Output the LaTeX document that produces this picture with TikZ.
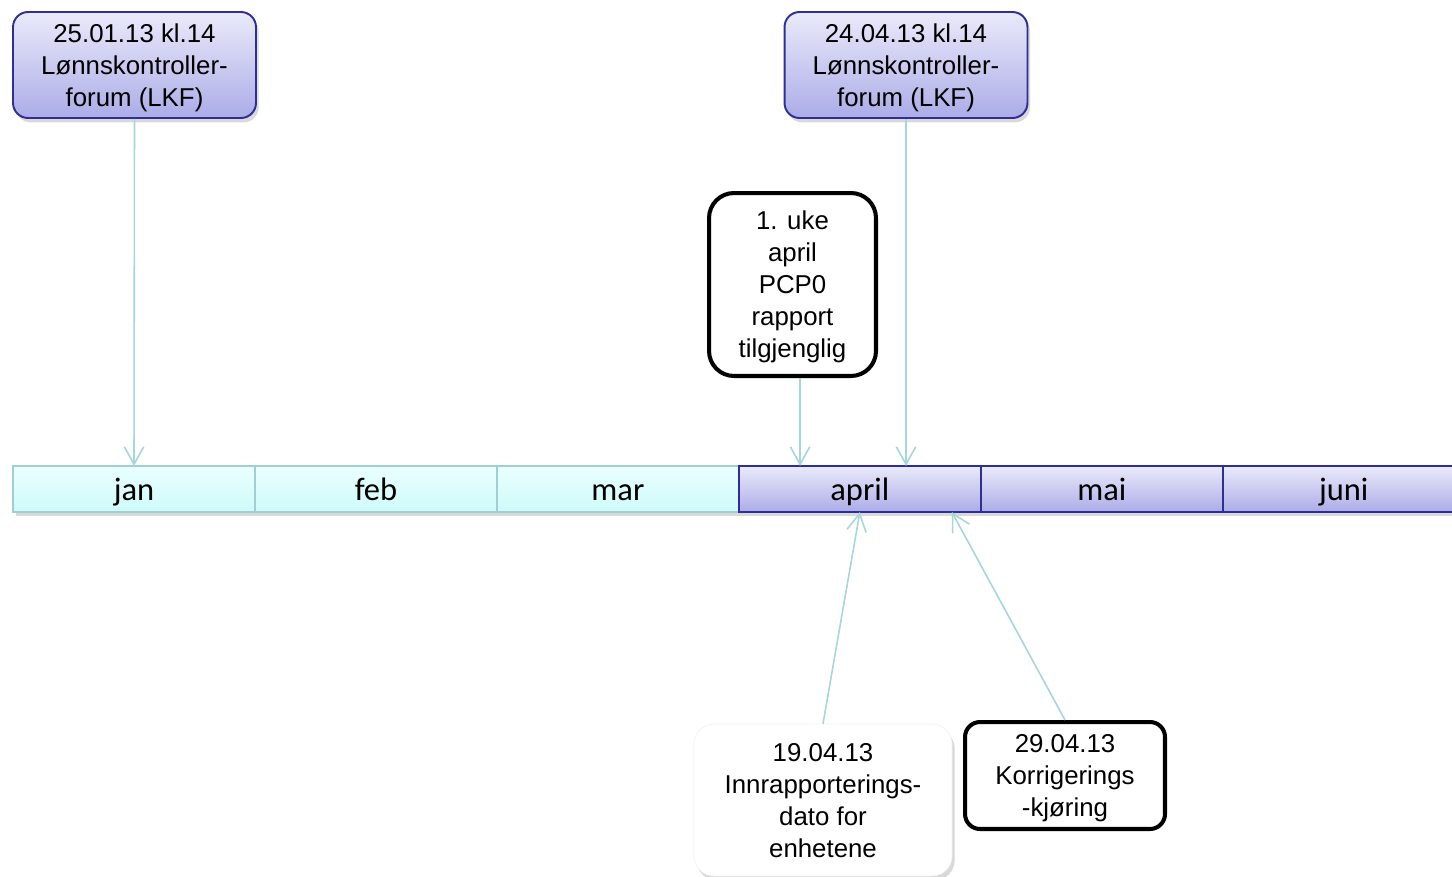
\documentclass[tikz,border=0pt]{standalone}
\usepackage{fontspec}
\setmainfont{Liberation Sans}
\newfontfamily\monthfont{Carlito}
\usetikzlibrary{positioning,arrows.meta,shadows}

\definecolor{lkfblue}{RGB}{46,46,150}
\definecolor{lkftop}{RGB}{234,234,250}
\definecolor{lkfbottom}{RGB}{172,172,232}
\definecolor{cyantop}{RGB}{234,255,255}
\definecolor{cyanbottom}{RGB}{206,250,250}
\definecolor{tealline}{RGB}{166,214,218}

\newcommand{\eventtext}[1]{\raisebox{-1.7pt}[\height][\depth]{\begin{tabular}{@{}c@{}}#1\end{tabular}}}

\begin{document}
\begin{tikzpicture}[%
    x=0.02cm,
    y=-0.02cm,
    >={Straight Barb[length=10pt,width=11pt]},
    soft/.style={drop shadow={opacity=0.3,shadow xshift=1.5pt,shadow yshift=-2.5pt}},
    event/.style={rectangle,inner sep=0pt,
      font=\fontsize{14.7}{18.2}\selectfont},
    meeting/.style={event,soft,rounded corners=0.3cm,draw=lkfblue,line width=1.1pt,
      top color=lkftop,bottom color=lkfbottom,
      minimum width=4.86cm,minimum height=2.12cm},
    deadline/.style={event,rounded corners=0.4cm,draw=black,line width=2.3pt,fill=white},
    month/.style={rectangle,soft,outer sep=0pt,inner sep=0pt,
      minimum width=4.84cm,minimum height=0.92cm,
      text height=13.6pt,text depth=0pt,
      font=\monthfont\fontsize{18.5}{22}\selectfont},
    past/.style={month,draw=tealline!90!gray,line width=1pt,top color=cyantop,bottom color=cyanbottom},
    current/.style={month,draw=lkfblue,line width=1.1pt,top color=lkftop,bottom color=lkfbottom},
    link/.style={->,color=tealline,line width=0.9pt}
  ]

  \path[use as bounding box,clip] (0,0) rectangle (1452,876);

  \node[meeting] (lkfjan) at (134.5,65)
    {\eventtext{25.01.13 kl.14\\Lønnskontroller-\\forum (LKF)}};
  \node[meeting] (lkfapr) at (906,65)
    {\eventtext{24.04.13 kl.14\\Lønnskontroller-\\forum (LKF)}};
  \node[deadline,rounded corners=0.5cm,minimum width=3.34cm,minimum height=3.66cm]
    (pcp) at (792.5,284.5) {\eventtext{1. uke\\april\\PCP0\\rapport\\tilgjenglig}};

  \node[past] (jan) at (134,489) {jan};
  \node[past] (feb) [right=0pt of jan] {feb};
  \node[past] (mar) [right=0pt of feb] {mar};
  \node[current] (apr) [right=0pt of mar] {april};
  \node[current] (mai) [right=0pt of apr] {mai};
  \node[current] (jun) [right=0pt of mai] {juni};

  \node[event,soft,rounded corners=0.4cm,fill=white,draw=gray!10,
    minimum width=5.16cm,minimum height=3.04cm] (innrap) at (823,800)
    {\eventtext{19.04.13\\Innrapporterings-\\dato for\\enhetene}};
  \node[deadline,rounded corners=0.3cm,minimum width=4cm,minimum height=2.14cm]
    (korr) at (1065,775.5) {\eventtext{29.04.13\\Korrigerings\\-kjøring}};

  \coordinate (pcpfoot) at ([xshift=4.3pt]pcp.south);
  \coordinate (pcphit) at (pcpfoot |- apr.north);
  \coordinate (lkfhit) at (lkfapr.south |- apr.north);
  \coordinate (korrhit) at ([xshift=-0.58cm]apr.south east);

  \path[link]
      (lkfjan.south) edge (jan.north)
      (pcpfoot)      edge (pcphit)
      (lkfapr.south) edge (lkfhit)
      (innrap.north) edge (apr.south)
      (korr.north)   edge (korrhit);

\end{tikzpicture}
\end{document}
